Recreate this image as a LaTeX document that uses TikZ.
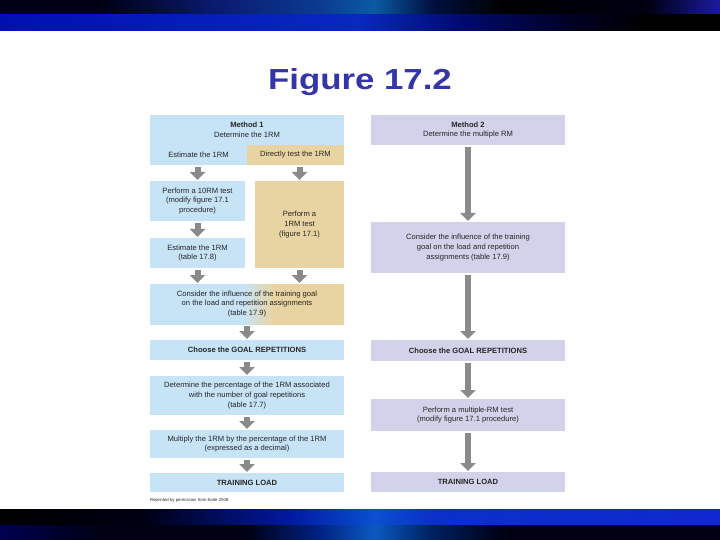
\documentclass[tikz,border=0pt]{standalone}
\usepackage{fontspec}
\setmainfont{Liberation Sans}
\usetikzlibrary{arrows.meta}

\definecolor{boxblue}{HTML}{C7E3F6}
\definecolor{boxtan}{HTML}{E8D4A2}
\definecolor{boxlav}{HTML}{D2D2EA}
\definecolor{flowgray}{HTML}{8A8A8A}
\definecolor{titleblue}{HTML}{3535AA}
\definecolor{inkgray}{HTML}{262626}
% Frame colours
\definecolor{navyA}{HTML}{000014}
\definecolor{navyB}{HTML}{0A1A70}
\definecolor{navyC}{HTML}{0A3A90}
\definecolor{glowA}{HTML}{0A5AA4}
\definecolor{navyD}{HTML}{001040}
\definecolor{rimblue}{HTML}{1A1AA0}
\definecolor{bandA}{HTML}{0010B0}
\definecolor{bandB}{HTML}{0828C0}
\definecolor{bandC}{HTML}{000A70}
\definecolor{bandD}{HTML}{000020}
\definecolor{lowA}{HTML}{0018A0}
\definecolor{lowB}{HTML}{0A50D0}
\definecolor{lowC}{HTML}{0A30C8}
\definecolor{lowD}{HTML}{1028D0}
\definecolor{deepA}{HTML}{000050}
\definecolor{deepB}{HTML}{002080}
\definecolor{deepC}{HTML}{0A5AC0}
\definecolor{deepD}{HTML}{002060}

% Colour bands for the slide frame
\pgfdeclarehorizontalshading{topupper}{100bp}{color(0bp)=(navyA); color(25bp)=(navyA); color(32bp)=(navyA); color(40bp)=(navyB); color(47bp)=(navyC); color(51bp)=(glowA); color(55bp)=(navyD); color(60bp)=(black); color(70bp)=(navyA); color(75bp)=(rimblue); color(100bp)=(rimblue)}
\pgfdeclarehorizontalshading{toplower}{100bp}{color(0bp)=(bandA); color(25bp)=(bandA); color(50bp)=(bandB); color(57bp)=(bandC); color(65bp)=(bandD); color(70bp)=(black); color(100bp)=(black)}
\pgfdeclarehorizontalshading{botupper}{100bp}{color(0bp)=(black); color(25bp)=(black); color(35bp)=(navyA); color(45bp)=(lowA); color(51bp)=(lowB); color(55bp)=(lowC); color(75bp)=(lowD); color(100bp)=(lowD)}
\pgfdeclarehorizontalshading{botlower}{100bp}{color(0bp)=(deepA); color(25bp)=(deepA); color(32bp)=(navyA); color(42bp)=(navyA); color(47bp)=(deepB); color(51bp)=(deepC); color(55bp)=(deepD); color(60bp)=(navyA); color(100bp)=(navyA)}
% Blend of the shared box
\pgfdeclarehorizontalshading{bluetan}{100bp}{color(0bp)=(boxblue); color(49bp)=(boxblue); color(57bp)=(boxtan); color(100bp)=(boxtan)}

\begin{document}
\begin{tikzpicture}[x=1pt,y=-1pt,
    box/.style={inner sep=0pt, outer sep=0pt, anchor=north west, align=center,
      text=inkgray, font=\fontsize{7.6}{9.6}\selectfont},
    bluebox/.style={box, fill=boxblue},
    tanbox/.style={box, fill=boxtan},
    lavbox/.style={box, fill=boxlav},
    flow/.style={draw=flowgray, line width=6pt, -{Triangle[width=15pt,length=8pt]},
      shorten <=2pt, shorten >=1pt}]
    % Page
    \useasboundingbox[fill=white] (0,0) rectangle (720,540);
    % Frame bands
    \shade[shading=topupper] (0,0) rectangle (720,15);
    \shade[shading=toplower] (0,15) rectangle (720,31);
    \shade[shading=botupper] (0,509) rectangle (720,525);
    \shade[shading=botlower] (0,525) rectangle (720,540);
    % Title
    \node[font=\bfseries\fontsize{29}{32}\selectfont, text=titleblue, xscale=1.2] (title) at (360,82) {Figure 17.2};

    % Method 1
    \node[bluebox, minimum width=194pt, minimum height=30pt] (m1) at (150,115) {\textbf{Method 1}\\Determine the 1RM};
    \node[bluebox, minimum width=97pt, minimum height=20pt] (est) at (150,145) {Estimate the 1RM};
    \node[tanbox, minimum width=97pt, minimum height=20pt] (direct) at (247,145) {Directly test the 1RM};
    \node[bluebox, minimum width=95pt, minimum height=40pt] (p10) at (150,181) {Perform a 10RM test\\(modify figure 17.1\\procedure)};
    \node[tanbox, minimum width=89pt, minimum height=87pt] (p1) at (255,181) {Perform a\\1RM test\\(figure 17.1)};
    \node[bluebox, minimum width=95pt, minimum height=30pt] (est2) at (150,238) {Estimate the 1RM\\(table 17.8)};
    \node[box, shading=bluetan, minimum width=194pt, minimum height=40pt] (cons1) at (150,284) {Consider the influence of the training goal\\on the load and repetition assignments\\(table 17.9)};
    \node[bluebox, minimum width=194pt, minimum height=20pt] (goal1) at (150,340) {\textbf{Choose the GOAL REPETITIONS}};
    \node[bluebox, minimum width=194pt, minimum height=39pt] (pct) at (150,376) {Determine the percentage of the 1RM associated\\with the number of goal repetitions\\(table 17.7)};
    \node[bluebox, minimum width=194pt, minimum height=28pt] (mult) at (150,430) {Multiply the 1RM by the percentage of the 1RM\\(expressed as a decimal)};
    \node[bluebox, minimum width=194pt, minimum height=19pt] (load1) at (150,473) {\textbf{TRAINING LOAD}};
    \node[anchor=west, inner sep=0pt, text=inkgray, font=\fontsize{4.3}{5}\selectfont] (credit) at (150,500) {Reprinted by permission from Earle 2008.};

    % Method 2
    \node[lavbox, minimum width=194pt, minimum height=30pt] (m2) at (371,115) {\textbf{Method 2}\\Determine the multiple RM};
    \node[lavbox, minimum width=194pt, minimum height=51pt] (cons2) at (371,222) {Consider the influence of the training\\goal on the load and repetition\\assignments (table 17.9)};
    \node[lavbox, minimum width=194pt, minimum height=21pt] (goal2) at (371,340) {\textbf{Choose the GOAL REPETITIONS}};
    \node[lavbox, minimum width=194pt, minimum height=32pt] (pm) at (371,399) {Perform a multiple-RM test\\(modify figure 17.1 procedure)};
    \node[lavbox, minimum width=194pt, minimum height=20pt] (load2) at (371,472) {\textbf{TRAINING LOAD}};

    % Arrows, method 1
    \draw[flow] (est.south -| p10.north) -- (p10.north);
    \draw[flow] (direct.south -| p1.north) -- (p1.north);
    \draw[flow] (p10) -- (est2);
    \draw[flow] (est2.south) -- (cons1.north -| est2.south);
    \draw[flow] (p1.south) -- (cons1.north -| p1.south);
    \draw[flow] (cons1) -- (goal1);
    \draw[flow] (goal1) -- (pct);
    \draw[flow] (pct) -- (mult);
    \draw[flow] (mult) -- (load1);
    % Arrows, method 2
    \draw[flow] (m2) -- (cons2);
    \draw[flow] (cons2) -- (goal2);
    \draw[flow] (goal2) -- (pm);
    \draw[flow] (pm) -- (load2);
\end{tikzpicture}
\end{document}
